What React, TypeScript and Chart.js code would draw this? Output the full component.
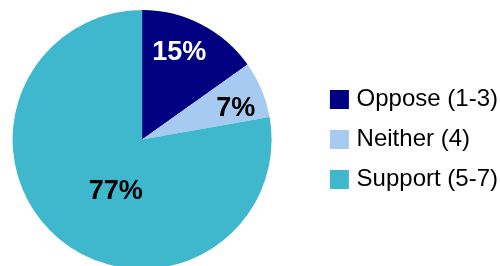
import React, { useEffect, useRef } from "react";
import { Chart, registerables } from "chart.js";

Chart.register(...registerables);

const categories = ["Oppose (1-3)", "Neither (4)", "Support (5-7)"];
const values = [15, 7, 77];
const sliceLabels = ["15%", "7%", "77%"];
const colors = ["#000080", "#A6CAF0", "#3FB8CD"];
const labelColors = ["#FFFFFF", "#000000", "#000000"];
// label placement within each slice: fraction along the slice's angle, fraction of radius
const labelAngleFrac = [0.42, 0.66, 0.454];
const labelRadiusFrac = [0.736, 0.764, 0.445];

const FONT = "'Liberation Sans', Arial, Helvetica, sans-serif";

const sliceLabelPlugin = {
  id: "sliceLabels",
  afterDatasetsDraw(chart: any) {
    const meta = chart.getDatasetMeta(0);
    const ctx = chart.ctx;
    ctx.save();
    ctx.font = `bold 27px ${FONT}`;
    ctx.textAlign = "center";
    ctx.textBaseline = "middle";
    meta.data.forEach((arc: any, i: number) => {
      const { x, y, startAngle, endAngle, outerRadius } = arc.getProps(
        ["x", "y", "startAngle", "endAngle", "outerRadius"],
        true
      );
      const a = startAngle + (endAngle - startAngle) * labelAngleFrac[i];
      const r = outerRadius * labelRadiusFrac[i];
      ctx.fillStyle = labelColors[i];
      ctx.fillText(sliceLabels[i], x + Math.cos(a) * r, y + Math.sin(a) * r + 1);
    });
    ctx.restore();
  },
};

export default function App() {
  const ref = useRef<HTMLCanvasElement | null>(null);
  useEffect(() => {
    if (!ref.current) return;
    const chart = new Chart(ref.current, {
      type: "pie",
      data: {
        labels: categories,
        datasets: [
          {
            data: values,
            backgroundColor: colors,
            borderWidth: 0,
          },
        ],
      },
      options: {
        responsive: false,
        animation: false,
        layout: { padding: { left: 0, right: 0, top: 10, bottom: 0 } },
        plugins: {
          tooltip: { enabled: false },
          legend: {
            position: "right",
            align: "center",
            labels: {
              boxWidth: 10.4,
              boxHeight: 10.4,
              padding: 16,
              color: "#000000",
              font: { family: FONT, size: 24 },
              generateLabels: () =>
                categories.map((t, i) => ({
                  text: t,
                  fillStyle: colors[i],
                  strokeStyle: colors[i],
                  lineWidth: 8.6,
                  lineJoin: "miter",
                  hidden: false,
                  index: i,
                  fontColor: "#000000",
                })),
            },
          },
        },
      },
      plugins: [sliceLabelPlugin],
    });
    return () => chart.destroy();
  }, []);
  return (
    <div
      style={{
        position: "fixed",
        left: 0,
        top: 0,
        width: 501,
        height: 266,
        overflow: "hidden",
        background: "#fff",
      }}
    >
      <canvas
        ref={ref}
        width={542}
        height={269}
        style={{ display: "block", position: "absolute", left: -34, top: 0 }}
      />
    </div>
  );
}
